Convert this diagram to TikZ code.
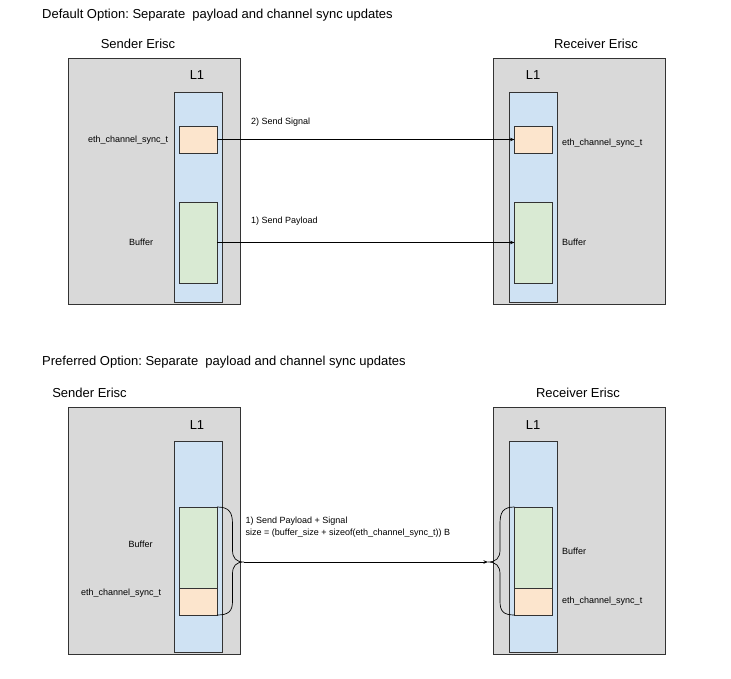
\documentclass[tikz,border=0pt]{standalone}
\usepackage{fontspec}
\setmainfont{Liberation Sans}
\usetikzlibrary{arrows.meta}
\frenchspacing
\definecolor{grayfill}{HTML}{D9D9D9}
\definecolor{bluefill}{HTML}{CFE2F3}
\definecolor{orangefill}{HTML}{FCE5CD}
\definecolor{greenfill}{HTML}{D9EAD3}
\definecolor{edge}{HTML}{333333}
\tikzset{
  box/.style={draw=edge, line width=0.8pt, anchor=north west, inner sep=0pt, outer sep=0pt},
  erisc/.style={box, fill=grayfill, minimum width=172pt, minimum height=246pt},
  lone/.style={box, fill=bluefill, minimum width=48pt, minimum height=210pt},
  sync/.style={box, fill=orangefill, minimum width=38pt, minimum height=27pt},
  buf/.style={box, fill=greenfill, minimum width=38pt, minimum height=81pt},
  bigtxt/.style={font=\fontsize{13}{15}\selectfont, inner sep=0pt},
  smalltxt/.style={font=\fontsize{9}{11}\selectfont, inner sep=0pt, anchor=west},
  conn/.style={draw=black, line width=0.7pt, -{Stealth[length=4.5pt,width=3.5pt]}},
  brace/.style={draw=black, line width=0.7pt}
}
\begin{document}
\begin{tikzpicture}[x=1pt,y=-1pt]
\useasboundingbox (0,0) rectangle (731,678);
% ---------- top ----------
\node[bigtxt, anchor=west] (t1) at (42,15) {Default Option: Separate\ \ payload and channel sync updates};
\node[bigtxt] (s1) at (138,43.5) {Sender Erisc};
\node[bigtxt] (r1) at (596,43.5) {Receiver Erisc};
\node[erisc] (sg1) at (68,58) {};
\node[erisc] (rg1) at (493,58) {};
\node[bigtxt] (sl1) at (197,75) {L1};
\node[bigtxt] (rl1) at (533,75) {L1};
\node[lone] (sb1) at (174,92) {};
\node[lone] (rb1) at (509.5,92) {};
\node[sync] (ss1) at (179,126) {};
\node[sync] (rs1) at (514.5,126) {};
\node[buf] (sbf1) at (179,202) {};
\node[buf] (rbf1) at (514.5,202) {};
\node[smalltxt] (sst1) at (88,140) {eth\_channel\_sync\_t};
\node[smalltxt] (sbt1) at (129,242) {Buffer};
\node[smalltxt] (rst1) at (562,143) {eth\_channel\_sync\_t};
\node[smalltxt] (rbt1) at (562,242) {Buffer};
\node[smalltxt] (lab2) at (251,122) {2) Send Signal};
\node[smalltxt] (lab1) at (251,221) {1) Send Payload};
\draw[conn] (ss1.east) -- (rs1.west);
\draw[conn] (sbf1.east) -- (sbf1.east -| rbf1.west);
% ---------- bottom ----------
\node[bigtxt, anchor=west] (t2) at (42,362.5) {Preferred Option: Separate\ \ payload and channel sync updates};
\node[bigtxt] (s2) at (89.5,392.5) {Sender Erisc};
\node[bigtxt] (r2) at (578,392.5) {Receiver Erisc};
\node[erisc, minimum height=247pt] (sg2) at (68,407.5) {};
\node[erisc, minimum height=247pt] (rg2) at (493,407.5) {};
\node[bigtxt] (sl2) at (197,425) {L1};
\node[bigtxt] (rl2) at (533,425) {L1};
\node[lone, minimum height=211pt] (sb2) at (174,441) {};
\node[lone, minimum height=211pt] (rb2) at (509.5,441) {};
\node[buf] (sbf2) at (179,507) {};
\node[sync] (ss2) at (179,588) {};
\node[buf] (rbf2) at (514.5,507) {};
\node[sync] (rs2) at (514.5,588) {};
\node[smalltxt] (sbt2) at (128.5,544) {Buffer};
\node[smalltxt] (sst2) at (81,593.5) {eth\_channel\_sync\_t};
\node[smalltxt] (rbt2) at (562,551.5) {Buffer};
\node[smalltxt] (rst2) at (562,601.5) {eth\_channel\_sync\_t};
\node[smalltxt, align=left] (lab3) at (245.5,527) {1) Send Payload + Signal\\[1pt]size = (buffer\_size + sizeof(eth\_channel\_sync\_t)) B};
% braces
\coordinate (ltip) at (244,562);
\coordinate (rtip) at (488,562);
\draw[brace] (sbf2.north east) .. controls (229,507) and (232.5,512) .. (232.5,524)
  -- (232.5,550) .. controls (232.5,558) and (236,562) .. (ltip)
  .. controls (236,562) and (232.5,566) .. (232.5,574)
  -- (232.5,601) .. controls (232.5,611) and (229,615) .. (ss2.south east);
\draw[brace] (rbf2.north west) .. controls (503,507) and (500,512) .. (500,524)
  -- (500,550) .. controls (500,558) and (496,562) .. (rtip)
  .. controls (496,562) and (500,566) .. (500,574)
  -- (500,601) .. controls (500,611) and (503,615) .. (rs2.south west);
\draw[conn] (ltip) -- (rtip);
\end{tikzpicture}
\end{document}
